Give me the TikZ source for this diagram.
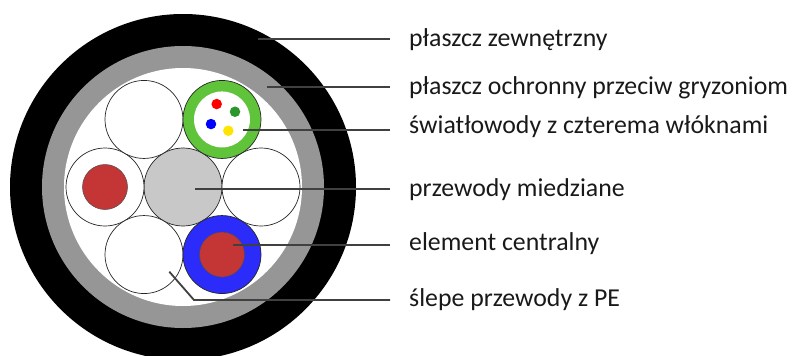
\documentclass[tikz,border=0pt]{standalone}
\usepackage{fontspec}
\setmainfont{Carlito}
\usetikzlibrary{positioning}

\definecolor{jacketgray}{RGB}{150,150,150}
\definecolor{coppergray}{RGB}{200,200,200}
\definecolor{rodentgreen}{RGB}{96,196,58}
\definecolor{coreblue}{RGB}{44,44,250}
\definecolor{copperred}{RGB}{196,54,54}
\definecolor{fibregreen}{RGB}{44,150,44}
\definecolor{fibreyellow}{RGB}{255,228,0}
\definecolor{leadgray}{RGB}{64,64,64}

\begin{document}
\begin{tikzpicture}[x=1pt,y=-1pt,node distance=78pt,on grid,
    wire/.style={circle,draw=black!85,line width=0.7pt,minimum size=78pt,inner sep=0pt,fill=white},
    core/.style={circle,draw=black!70,line width=0.5pt,fill=copperred,minimum size=45pt,inner sep=0pt},
    fibre/.style={circle,minimum size=10.5pt,inner sep=0pt},
    lead/.style={draw=leadgray,line width=1.8pt},
    lbl/.style={anchor=base west,inner xsep=19pt,inner ysep=0pt,text=black!90,font=\fontsize{25.8}{30}\selectfont}]

  \useasboundingbox (0,0) rectangle (798,356);

  % jackets
  \fill[black] (183,187) circle[radius=173pt];
  \fill[jacketgray] (183,187) circle[radius=141pt];
  \fill[white] (183,187) circle[radius=119pt];

  % seven elements
  \node[wire,fill=coppergray] (cu) at (183,187) {};
  \node[wire] (w) [left=of cu] {};
  \node[wire] (e) [right=of cu] {};
  \node[wire] (nw) [above left=67.55pt and 39pt of cu] {};
  \node[wire,fill=rodentgreen] (ne) [above right=67.55pt and 39pt of cu] {};
  \node[wire] (sw) [below left=67.55pt and 39pt of cu] {};
  \node[wire,fill=coreblue] (se) [below right=67.55pt and 39pt of cu] {};

  \node[core] (wcore) at (w) {};
  \node[core] (secore) at (se) {};
  \node[circle,fill=white,minimum size=56pt,inner sep=0pt] (tube) at (ne) {};

  % four fibres
  \node[fibre,fill=red] (f1) [above left=15.4pt and 5.3pt of ne] {};
  \node[fibre,fill=fibregreen] (f2) [above right=7.7pt and 13pt of ne] {};
  \node[fibre,fill=blue] (f3) [below left=4.6pt and 11pt of ne] {};
  \node[fibre,fill=fibreyellow] (f4) [below right=11.3pt and 6.3pt of ne] {};

  % labels
  \node[lbl] (l1) at (390,46.7) {płaszcz zewnętrzny};
  \node[lbl] (l2) at (390,94.5) {płaszcz ochronny przeciw gryzoniom};
  \node[lbl] (l3) at (390,133.3) {światłowody z czterema włóknami};
  \node[lbl] (l4) at (390,196.7) {przewody miedziane};
  \node[lbl] (l5) at (390,250) {element centralny};
  \node[lbl] (l6) at (390,306.7) {ślepe przewody z PE};

  % leaders
  \coordinate (p1) at (258,39);
  \coordinate (p2) at (267,86.7);
  \coordinate (p3) at (243,130);
  \coordinate (p4) at (195,189);
  \coordinate (p5) at (233,245);
  \coordinate (p6) at (169.3,271.7);
  \coordinate (k6) at (194,300);

  \draw[lead] (p1) -- (p1 -| l1.west);
  \draw[lead] (p2) -- (p2 -| l2.west);
  \draw[lead] (p3) -- (p3 -| l3.west);
  \draw[lead] (p4) -- (p4 -| l4.west);
  \draw[lead] (p5) -- (p5 -| l5.west);
  \draw[lead] (p6) -- (k6) -- (k6 -| l6.west);
\end{tikzpicture}
\end{document}
